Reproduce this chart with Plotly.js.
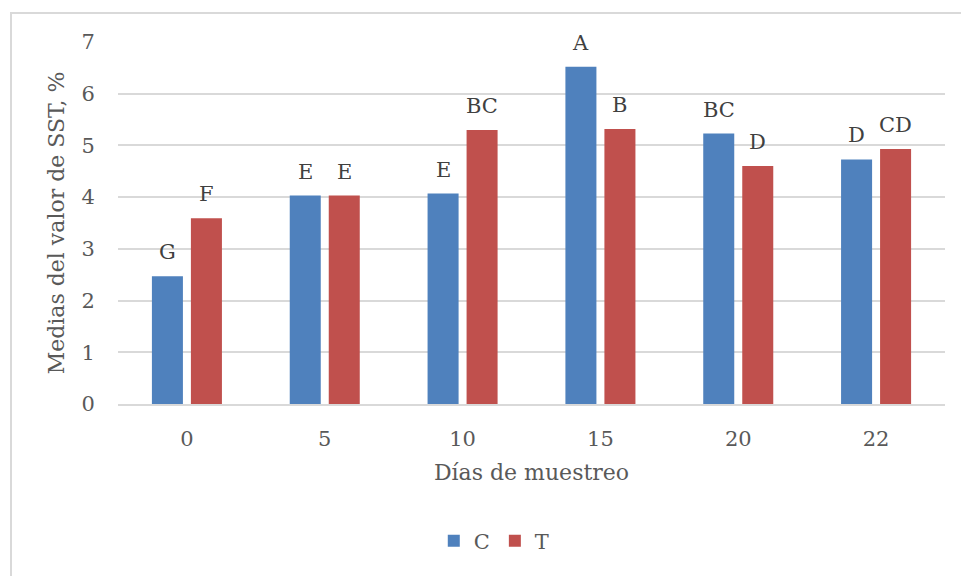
<!DOCTYPE html>
<html>
<head>
<meta charset="utf-8">
<script src="https://cdn.plot.ly/plotly-3.0.1.min.js"></script>
<style>
  html, body { margin: 0; padding: 0; background: #ffffff; }
  #wrap { position: relative; width: 961px; height: 576px; overflow: hidden; }
  #frame { position: absolute; left: 10px; top: 12px; width: 960px; height: 600px;
           border-left: 2px solid #d9d9d9; border-top: 2px solid #d9d9d9; pointer-events: none; }
  #chart { position: absolute; left: 0; top: 0; width: 961px; height: 576px; }
</style>
</head>
<body>
<div id="wrap">
  <div id="chart"></div>
  <div id="frame"></div>
</div>
<script>
const days = ["0", "5", "10", "15", "20", "22"];
const seriesNames = ["C", "T"];
const valuesC = [2.47, 4.03, 4.07, 6.52, 5.23, 4.73];
const valuesT = [3.59, 4.03, 5.30, 5.32, 4.60, 4.93];
const lettersC = ["G", "E", "E", "A", "BC", "D"];
const lettersT = ["F", "E", "BC", "B", "D", "CD"];
const yTicks = [0, 1, 2, 3, 4, 5, 6, 7];

const FONT = "DejaVu Serif, Liberation Serif, serif";
const TXT = "#595959";
const colors = ["#4f81bd", "#c0504d"];

const traces = [valuesC, valuesT].map((vals, k) => ({
  type: "bar",
  name: seriesNames[k],
  x: days,
  y: vals,
  marker: { color: colors[k], line: { width: 0 } },
  hoverinfo: "x+y+name"
}));

const annotations = [];
[[valuesC, lettersC, -19.5], [valuesT, lettersT, 19.5]].forEach(([vals, labs, dx]) => {
  vals.forEach((v, i) => {
    annotations.push({
      x: i, y: v, xref: "x", yref: "y",
      text: labs[i], showarrow: false,
      xanchor: "center", yanchor: "bottom",
      xshift: dx, yshift: 10,
      font: { family: FONT, size: 21, color: "#404040" }
    });
  });
});

const layout = {
  width: 961, height: 576,
  paper_bgcolor: "rgba(0,0,0,0)",
  plot_bgcolor: "rgba(0,0,0,0)",
  margin: { l: 118, r: 16, t: 42, b: 171.5 },
  barmode: "group",
  bargap: 0.434,
  bargroupgap: 0.205,
  font: { family: FONT, size: 21, color: TXT },
  xaxis: {
    type: "category",
    range: [-0.5, days.length - 0.5],
    autorange: false,
    showline: true, linecolor: "#d9d9d9", linewidth: 2,
    showgrid: false, zeroline: false,
    ticks: "outside", ticklen: 15, tickcolor: "rgba(0,0,0,0)",
    tickfont: { family: FONT, size: 21, color: TXT },
    title: { text: "Días de muestreo", font: { family: FONT, size: 22, color: TXT }, standoff: 14 }
  },
  yaxis: {
    range: [0, 7],
    autorange: false,
    tickvals: yTicks,
    ticktext: yTicks.map(String),
    showgrid: true, gridcolor: "#d9d9d9", gridwidth: 2,
    zeroline: false, showline: false,
    ticks: "outside", ticklen: 18, tickcolor: "rgba(0,0,0,0)",
    tickfont: { family: FONT, size: 21, color: TXT },
    title: { text: "Medias del valor de SST, %", font: { family: FONT, size: 22, color: TXT }, standoff: 10 }
  },
  showlegend: true,
  legend: {
    orientation: "h",
    x: 0.455, xanchor: "center",
    y: -0.379, yanchor: "middle",
    font: { family: FONT, size: 21, color: TXT },
    itemwidth: 30,
    bgcolor: "rgba(0,0,0,0)"
  },
  annotations: annotations
};

Plotly.newPlot("chart", traces, layout, { displayModeBar: false, staticPlot: true });
</script>
</body>
</html>
